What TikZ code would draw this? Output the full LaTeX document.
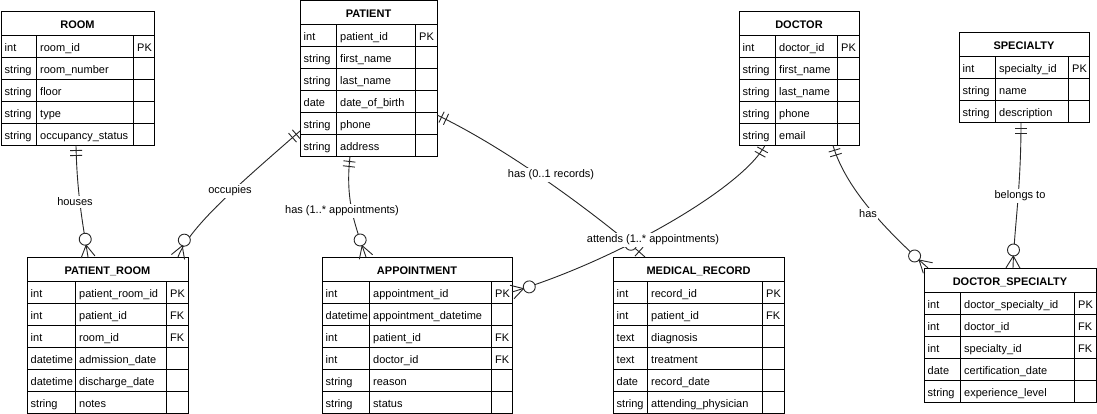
\documentclass[tikz,border=0pt]{standalone}
\usepackage{fontspec}
\setmainfont{Liberation Sans}
\usetikzlibrary{calc,decorations.markings}

\tikzset{
  x=1pt, y=-1pt,
  tabbox/.style={draw=black, line width=1pt, fill=white, inner sep=0pt, outer sep=0pt},
  tabline/.style={draw=black, line width=1pt},
  hdr/.style={font=\fontsize{11}{13}\selectfont\bfseries, inner sep=0pt, anchor=base},
  cell/.style={font=\fontsize{11}{13}\selectfont, inner sep=0pt, anchor=base west},
  rel/.style={draw=black!85, line width=0.9pt},
  lbl/.style={font=\fontsize{11}{13}\selectfont, fill=white, inner sep=1.5pt},
  oneS/.style={postaction={decorate, decoration={markings,
     mark=at position 0 with {\draw[line width=0.9pt, black!85] (5pt,-6pt)--(5pt,6pt) (10pt,-6pt)--(10pt,6pt);}}}},
  manyE/.style={postaction={decorate, decoration={markings,
     mark=at position -0.01pt with {\draw[line width=0.9pt, black!85, fill=white] (-18pt,0pt) circle[radius=6pt];
        \draw[line width=0.9pt, black!85] (0pt,-7pt)--(-12pt,0pt)--(0pt,7pt);}}}},
  zeroOneE/.style={postaction={decorate, decoration={markings,
     mark=at position -0.01pt with {\draw[line width=0.9pt, black!85, fill=white] (-19pt,0pt) circle[radius=6pt];
        \draw[line width=0.9pt, black!85] (-8pt,-6pt)--(-8pt,6pt);}}}},
}

\newcommand{\ertab}[9]{%
  \pgfmathsetmacro{\tw}{#4+#5+#6}%
  \pgfmathsetmacro{\th}{24+22*#7}%
  \node[tabbox, minimum width=\tw pt, minimum height=\th pt, anchor=north west] (#1) at (#2,#3) {};
  \node[hdr] (#1-h) at ($(#1.north)+(0,17)$) {#8};
  \foreach \ty/\nm/\ky [count=\i from 0] in {#9} {
    \pgfmathsetmacro{\yt}{#3+24+22*\i}
    \draw[tabline] (#2,\yt) -- ++(\tw,0);
    \node[cell] (#1-t\i) at (#2+3.5,\yt+16) {\ty};
    \node[cell] (#1-n\i) at (#2+#4+4,\yt+16) {\nm};
    \node[cell] (#1-k\i) at (#2+#4+#5+4,\yt+16) {\ky};
  }
  \draw[tabline] (#2+#4,#3+24) -- ++(0,22*#7) (#2+#4+#5,#3+24) -- ++(0,22*#7);
}

\begin{document}
\begin{tikzpicture}
\useasboundingbox[fill=white] (0,0) rectangle (1097,414);

\ertab{room}{1}{11.5}{35}{97}{21}{5}{ROOM}{int/room\_id/PK, string/room\_number/{}, string/floor/{}, string/type/{}, string/occupancy\_status/{}}
\ertab{patient}{300}{0.5}{36}{79}{22}{6}{PATIENT}{int/patient\_id/PK, string/first\_name/{}, string/last\_name/{}, date/date\_of\_birth/{}, string/phone/{}, string/address/{}}
\ertab{doctor}{739}{11.5}{36}{62}{22}{5}{DOCTOR}{int/doctor\_id/PK, string/first\_name/{}, string/last\_name/{}, string/phone/{}, string/email/{}}
\ertab{specialty}{959}{33}{36}{73}{21}{3}{SPECIALTY}{int/specialty\_id/PK, string/name/{}, string/description/{}}
\ertab{proom}{27}{257}{48}{91}{22}{6}{PATIENT\_ROOM}{int/patient\_room\_id/PK, int/patient\_id/FK, int/room\_id/FK, datetime/admission\_date/{}, datetime/discharge\_date/{}, string/notes/{}}
\ertab{appt}{322}{257}{47}{122}{21}{6}{APPOINTMENT}{int/appointment\_id/PK, datetime/appointment\_datetime/{}, int/patient\_id/FK, int/doctor\_id/FK, string/reason/{}, string/status/{}}
\ertab{medrec}{613}{257}{34}{115}{22}{6}{MEDICAL\_RECORD}{int/record\_id/PK, int/patient\_id/FK, text/diagnosis/{}, text/treatment/{}, date/record\_date/{}, string/attending\_physician/{}}
\ertab{dspec}{924}{268}{36}{114}{22}{5}{DOCTOR\_SPECIALTY}{int/doctor\_specialty\_id/PK, int/doctor\_id/FK, int/specialty\_id/FK, date/certification\_date/{}, string/experience\_level/{}}

% connector end points
\coordinate (e1s) at ($(room.south)+(-1.5,0)$);
\coordinate (e1e) at ($(proom.north west)+(61,0)$);
\coordinate (e2s) at ($(patient.west)+(0,52.5)$);
\coordinate (e2e) at ($(proom.north west)+(151,0)$);
\coordinate (e3s) at ($(patient.south)+(-18.5,0)$);
\coordinate (e3e) at ($(appt.north west)+(44,0)$);
\coordinate (e4s) at ($(patient.east)+(0,36.5)$);
\coordinate (e4e) at ($(medrec.north west)+(32,0)$);
\coordinate (e5s) at ($(doctor.south west)+(26,0)$);
\coordinate (e5e) at ($(appt.north east)+(0,35)$);
\coordinate (e6s) at ($(doctor.south west)+(94,0)$);
\coordinate (e6e) at ($(dspec.north west)+(4,0)$);
\coordinate (e7s) at ($(specialty.south west)+(62,0)$);
\coordinate (e7e) at ($(dspec.north west)+(89,0)$);

\draw[rel, oneS, manyE] (e1s) .. controls +(1,49) and +(-5,-32) .. (e1e);
\draw[rel, oneS, manyE] (e2s) .. controls +(-50,44) and +(12,-32) .. (e2e);
\draw[rel, oneS, manyE] (e3s) .. controls +(-5,44) and +(-11,-32) .. (e3e);
\draw[rel, oneS, zeroOneE] (e4s) .. controls +(83,40) and +(-30,-27) .. (e4e);
\draw[rel, oneS, manyE] (e5s) .. controls +(-25,45) and +(98,-29) .. (e5e);
\draw[rel, oneS, manyE] (e6s) .. controls +(12,40) and +(-48,-43) .. (e6e);
\draw[rel, oneS, manyE] (e7s) .. controls +(0,67) and +(1,-38) .. (e7e);

\node[lbl] (l1) at (75,202) {houses};
\node[lbl] (l2) at (230,191) {occupies};
\node[lbl] (l3) at (342,211) {has (1..* appointments)};
\node[lbl] (l4) at (551,175) {has (0..1 records)};
\node[lbl] (l5) at (653,240) {attends (1..* appointments)};
\node[lbl] (l6) at (868,214) {has};
\node[lbl] (l7) at (1020,196) {belongs to};
\end{tikzpicture}
\end{document}
